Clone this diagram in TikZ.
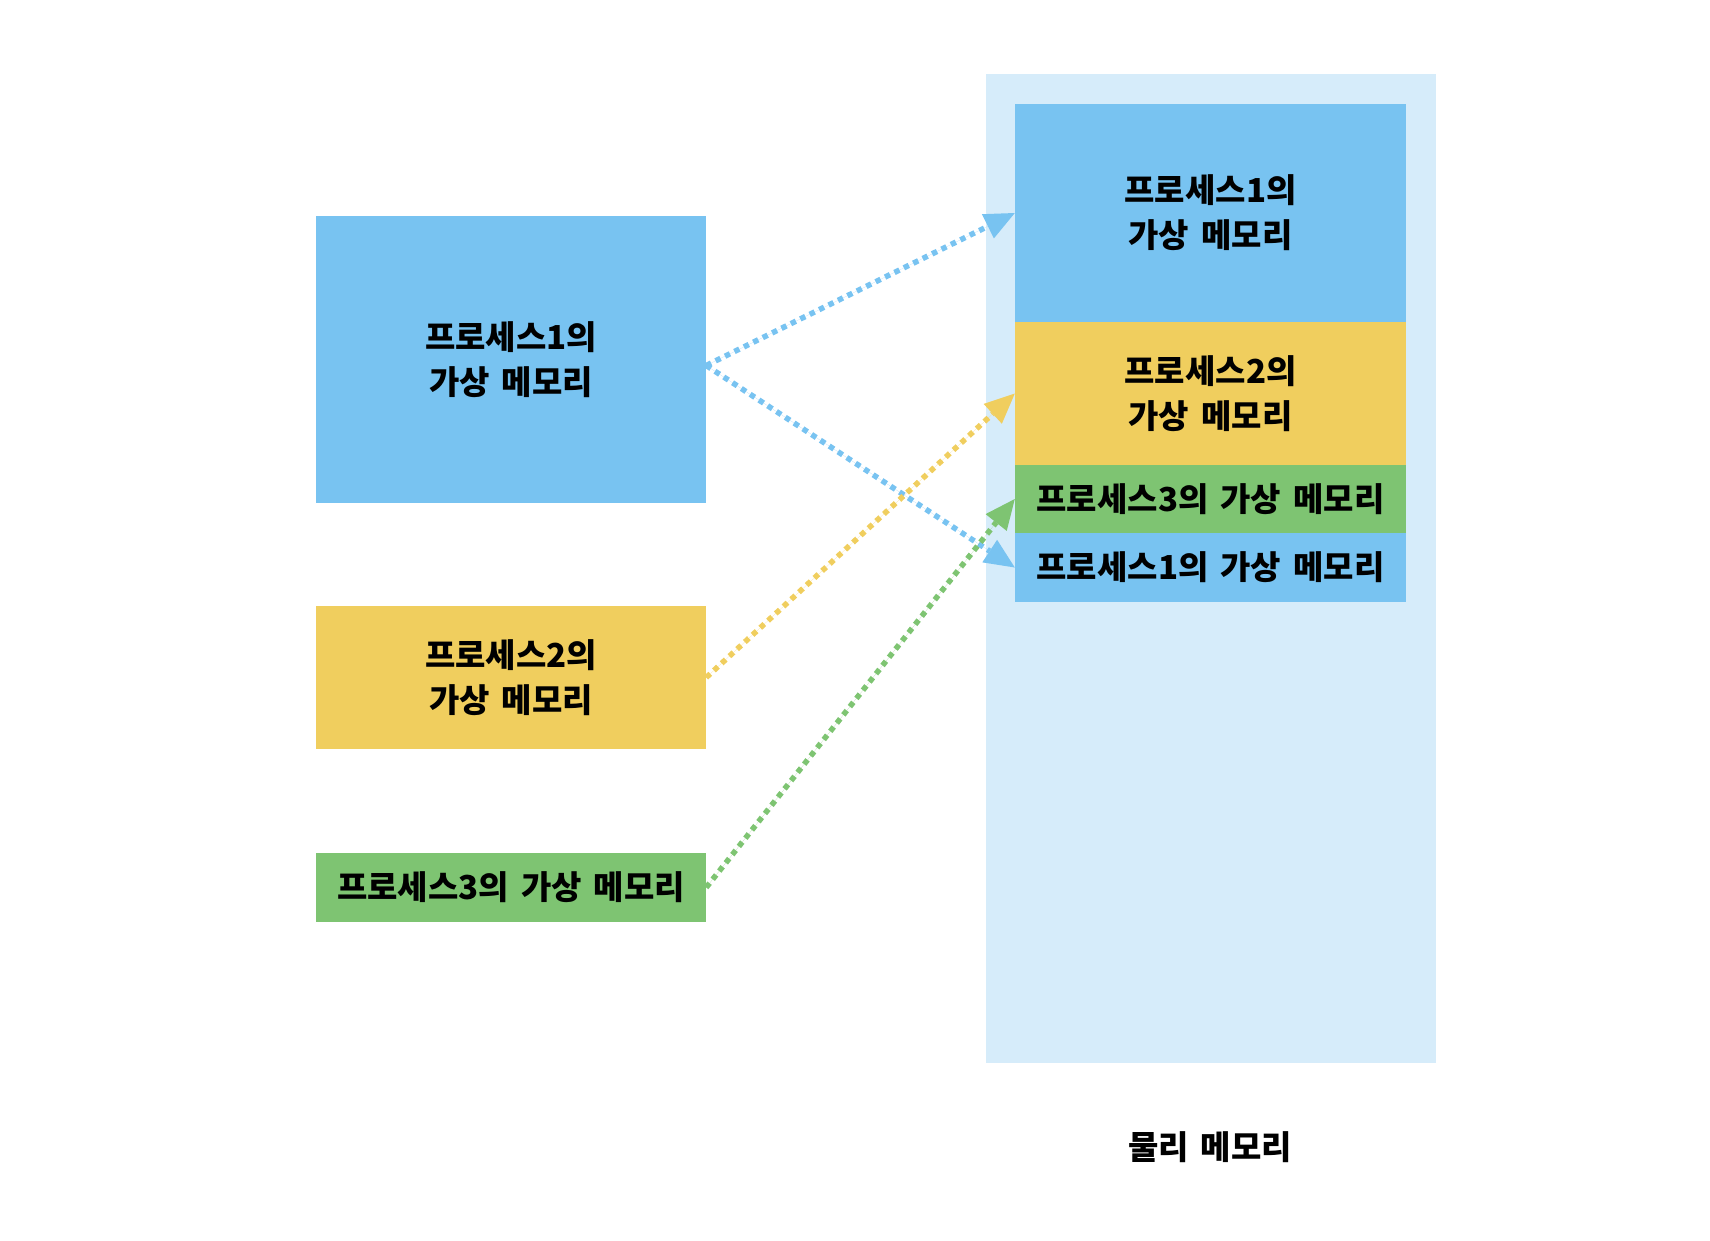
\documentclass[tikz,border=0pt]{standalone}
\usepackage{fontspec}
\newfontfamily\kr{Noto Sans CJK KR}[WordSpace=1.6]
\usetikzlibrary{arrows.meta}
\definecolor{cblue}{RGB}{120,195,241}
\definecolor{cyellow}{RGB}{240,206,94}
\definecolor{cgreen}{RGB}{126,196,114}
\definecolor{clight}{RGB}{214,236,250}
\begin{document}
\begin{tikzpicture}[x=1pt,y=-1pt,
  box/.style={draw=none, inner sep=0pt, align=center, text=black,
    font=\kr\bfseries\fontsize{33pt}{45pt}\selectfont},
  conn/.style={line width=5.5pt, dash pattern=on 5.5pt off 5pt,
    -{Triangle[length=30pt,width=27pt,line width=0pt]}, shorten >=0pt}]
\useasboundingbox (0,0) rectangle (1710,1240);
% physical memory background
\node[fill=clight, minimum width=450pt, minimum height=989pt, inner sep=0pt] (phys) at (1211,568.5) {};
\node[box, fill=cblue, minimum width=391pt, minimum height=218pt] (p1a) at (1210.5,213) {프로세스1의\\가상 메모리};
\node[box, fill=cyellow, minimum width=391pt, minimum height=143pt] (p2) at (1210.5,393.5) {프로세스2의\\가상 메모리};
\node[box, fill=cgreen, minimum width=391pt, minimum height=68pt] (p3) at (1210.5,499) {프로세스3의 가상 메모리};
\node[box, fill=cblue, minimum width=391pt, minimum height=69pt] (p1b) at (1210.5,567.5) {프로세스1의 가상 메모리};
% left boxes
\node[box, fill=cblue, minimum width=390pt, minimum height=287pt] (l1) at (511,359.5) {프로세스1의\\가상 메모리};
\node[box, fill=cyellow, minimum width=390pt, minimum height=143pt] (l2) at (511,677.5) {프로세스2의\\가상 메모리};
\node[box, fill=cgreen, minimum width=390pt, minimum height=69pt] (l3) at (511,887.5) {프로세스3의 가상 메모리};
% label
\node[box] (lbl) at (1210,1147) {물리 메모리};
% connectors
\coordinate (s1) at ([yshift=-6pt]l1.east);
\draw[conn, draw=cblue, fill=cblue] (s1) -- (p1a.west);
\draw[conn, draw=cblue, fill=cblue] (s1) -- (p1b.west);
\draw[conn, draw=cyellow, fill=cyellow] (l2.east) -- (p2.west);
\draw[conn, draw=cgreen, fill=cgreen] (l3.east) -- (p3.west);
\end{tikzpicture}
\end{document}
